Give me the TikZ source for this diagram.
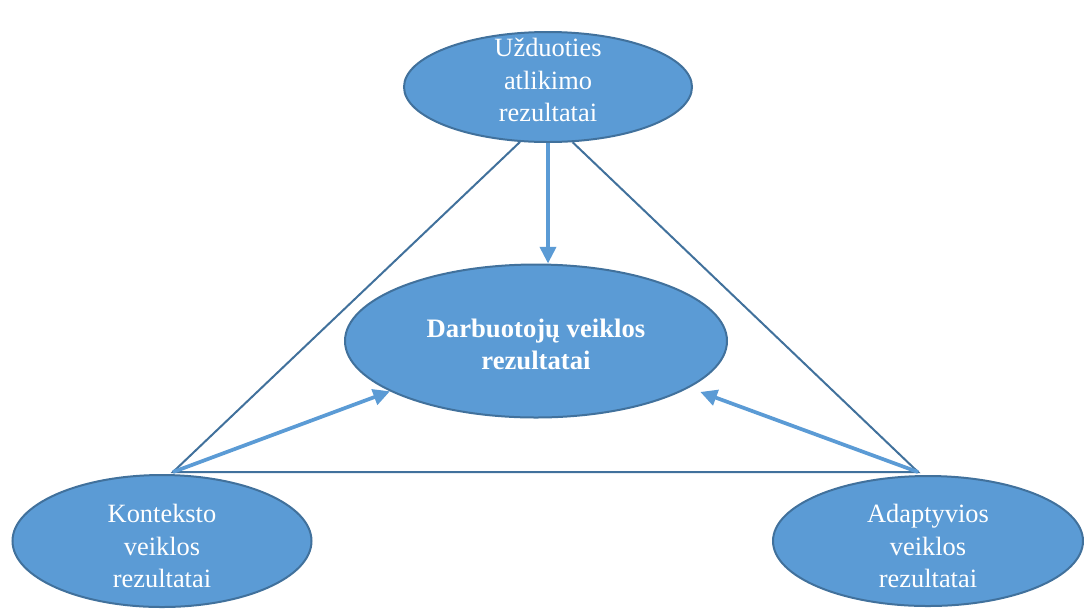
\documentclass[tikz,border=0pt]{standalone}
\usepackage{fontspec}
\setmainfont{Liberation Serif}
\usetikzlibrary{shapes.geometric,arrows.meta}
\definecolor{bfill}{HTML}{5B9BD5}
\definecolor{bline}{HTML}{41719C}
\begin{document}
\begin{tikzpicture}[x=0.75pt,y=-0.75pt,
  blob/.style={ellipse, draw=bline, fill=bfill, line width=1.5pt, inner sep=0pt},
  txt/.style={text=white, align=center, inner sep=0pt, font=\fontsize{19.8}{24.4}\selectfont},
  edge/.style={draw=bline, line width=1.5pt, line join=miter},
  flow/.style={draw=bfill, line width=2.8pt, -{Triangle[length=12.5pt,width=12pt]}}]
\useasboundingbox (0,0) rectangle (1084,608);

% outcome ellipses
\node[blob, minimum width=216pt, minimum height=82.5pt] (top) at (548,87) {};
\node[blob, minimum width=286.5pt, minimum height=114.75pt] (mid) at (536,341) {};
\node[blob, minimum width=224.25pt, minimum height=99pt] (ctx) at (162,541) {};
\node[blob, minimum width=232.5pt, minimum height=97.5pt] (adp) at (928,541) {};

% their labels
\node[txt] (topT) at ([yshift=5.2pt]top.center) {Užduoties\\atlikimo\\rezultatai};
\node[txt, font=\fontsize{20}{24}\selectfont\bfseries] (midT) at ([yshift=-2.2pt]mid.center)
  {Darbuotojų veiklos\\rezultatai};
\node[txt] (ctxT) at ([yshift=-3.8pt]ctx.center) {Konteksto\\veiklos\\rezultatai};
\node[txt] (adpT) at ([yshift=-3.8pt]adp.center) {Adaptyvios\\veiklos\\rezultatai};

% triangle corners above the lower ellipses
\coordinate (kl) at (173,472);
\coordinate (kr) at (918,472);

% triangle
\draw[edge] (top.243) -- (kl) -- (kr) -- (top.294);

% influence arrows
\draw[flow] (top.south) -- (top.south |- mid.north);
\draw[flow] (kl) -- (mid.199);
\draw[flow, shorten >=9pt] (kr) -- (mid.343);
\end{tikzpicture}
\end{document}
